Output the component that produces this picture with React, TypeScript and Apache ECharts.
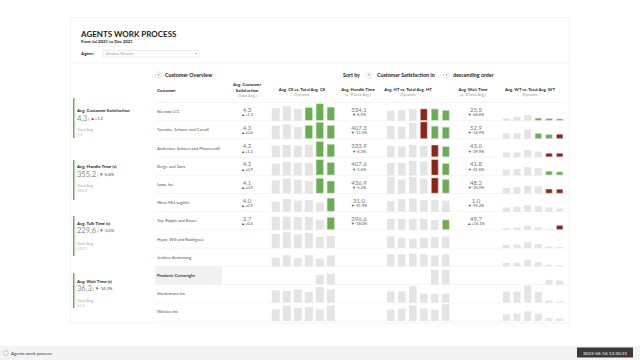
import React, { useEffect, useRef } from "react";
import * as echarts from "echarts";

// ---- data ----
const months = ["Jul", "Aug", "Sep", "Oct", "Nov", "Dec"];

const customers = [
  "Nienow LLC",
  "Turcotte, Schoen and Carroll",
  "Anderson, Schoen and Pfannerstill",
  "Berge and Sons",
  "Lowe Inc",
  "West-McLaughlin",
  "Toy, Rippin and Bauer",
  "Hyatt, Will and Rodriguez",
  "Jenkins-Armstrong",
  "Predovic-Cartwright",
  "Stiedemann Inc",
  "Watsica Inc",
];

// per-customer averages for the selected agent
const csValue = [4.3, 4.3, 4.2, 4.2, 4.1, 4.0, 3.7];
const csDiff = [1.3, 0.6, 1.2, 0.9, 0.9, 0.9, 0.4];
const htValue = [334.1, 407.3, 333.9, 407.6, 436.9, 31.0, 296.6];
const htPct = [-6.9, -11.5, -6.3, -1.6, -5.2, -91.9, -18.0];
const wtValue = [25.5, 52.9, 43.0, 41.8, 48.2, 1.0, 49.7];
const wtPct = [-46.6, -14.9, -29.9, -41.6, -20.9, -95.2, 16.1];

// monthly total averages (all agents), Jul..Dec
const csTotal = [
  [3.6, 4.2, 3.4, 3.8, 4.8, 3.9],
  [3.8, 4.2, 3.4, 3.9, 4.8, 3.9],
  [3.3, 3.5, 3.3, 3.6, 4.5, 3.7],
  [3.4, 3.9, 3.6, 3.6, 4.5, 3.7],
  [3.8, 4.3, 4.0, 3.6, 4.4, 3.6],
  [2.9, 3.7, 3.2, 3.4, 2.7, 3.9],
  [3.8, 3.8, 3.7, 3.7, 2.9, 3.6],
  [4.1, 4.6, 4.0, 4.4, 3.2, 3.5],
  [2.5, 3.2, 2.4, 3.2, 2.2, 3.2],
  [null, null, null, null, 2.8, 3.1],
  [3.6, 3.4, 3.8, 3.1, 4.5, 3.8],
  [3.3, 4.5, 3.8, 4.0, 3.3, 4.5],
];
// monthly values of the selected agent
const csAgent = [
  [null, null, null, 3.9, 5.0, 4.0],
  [null, null, null, 4.0, 4.9, 4.0],
  [null, null, null, null, 4.6, 3.8],
  [null, null, null, null, 4.6, 3.8],
  [null, null, null, null, 4.5, 3.7],
  [null, null, null, null, null, 4.0],
  [null, null, null, null, null, 3.7],
  [], [], [], [], [],
];

const htTotal = [
  [288, 307, 336, 330, 355, 315],
  [374, 355, 470, 480, 385, 355],
  [326, 307, 355, 326, 340, 320],
  [355, 355, 422, 403, 440, 360],
  [480, 403, 480, 432, 445, 425],
  [307, 365, 384, 336, 336, 320],
  [317, 317, 317, 317, 288, 305],
  [336, 298, 269, 298, 317, 336],
  [346, 346, 365, 346, 317, 346],
  [null, null, null, null, 422, 422],
  [326, 326, 470, 259, 259, 259],
  [326, 355, 451, 355, 326, 480],
];
const htAgent = [
  [null, null, null, 350, 345, 307],
  [null, null, null, 500, 375, 347],
  [null, null, null, null, 357, 311],
  [null, null, null, null, 465, 350],
  [null, null, null, null, 460, 414],
  [null, null, null, null, null, 31.0],
  [null, null, null, null, null, 296.6],
  [], [], [], [], [],
];

const wtTotal = [
  [24, 41, 58, 31, 26, 22],
  [58, 58, 99, 61, 50, 48],
  [48, 48, 75, 58, 40, 40],
  [58, 65, 85, 75, 47, 40],
  [58, 65, 82, 75, 46, 45],
  [44, 51, 68, 58, 44, 34],
  [17, 27, 44, 27, 10, 44],
  [34, 37, 61, 44, 17, 10],
  [34, 37, 68, 44, 17, 10],
  [null, null, null, null, 48, 41],
  [116, 116, 177, 109, 24, 14],
  [68, 75, 99, 75, 31, 24],
];
const wtAgent = [
  [null, null, null, 30, 25, 21.5],
  [null, null, null, 59, 48, 51.7],
  [null, null, null, null, 43, 43],
  [null, null, null, null, 45, 38.6],
  [null, null, null, null, 49, 47.4],
  [null, null, null, null, null, 1.0],
  [null, null, null, null, null, 49.7],
  [], [], [], [], [],
];

const kpiNames = ["Avg. Customer Satisfaction", "Avg. Handle Time (s)", "Avg. Talk Time (s)", "Avg. Wait Time (s)"];
const kpiValues = ["4,3", "355,2", "229,6", "36,3"];
const kpiDeltas = ["▲+1,2", "▼-6,8%", "▼-2,0%", "▼-34,3%"];
const kpiTotals = ["3,1", "381,2", "234,3", "55,2"];

// ---- styling ----
const FONT = "Lato, 'Open Sans', sans-serif";
const GREEN = "#6aad52";
const RED = "#8f2419";
const GREY = "#e4e4e4";

const ROW0 = 102.5;
const ROW_H = 18.2;
const rowTop = (i: number) => ROW0 + i * ROW_H;

function text(x: number, y: number, t: string, size: number, color: string, weight = "normal", align = "left", extra: any = {}) {
  return {
    type: "text",
    x,
    y,
    silent: true,
    z: 10,
    style: {
      text: t,
      fontSize: size,
      fill: color,
      fontWeight: weight,
      fontFamily: FONT,
      align,
      textAlign: align,
      verticalAlign: "middle",
      textVerticalAlign: "middle",
      ...extra,
    },
  };
}

function line(x1: number, y1: number, x2: number, y2: number, color: string, w = 0.6) {
  return { type: "line", silent: true, shape: { x1, y1, x2, y2 }, style: { stroke: color, lineWidth: w } };
}

function rect(x: number, y: number, w: number, h: number, fill: string, stroke?: string, lw = 0.6) {
  return { type: "rect", silent: true, shape: { x, y, width: w, height: h }, style: { fill, stroke: stroke || null, lineWidth: lw } };
}

// round toggle button with a small caret
function toggle(x: number, y: number) {
  return [
    { type: "circle", silent: true, z: 10, shape: { cx: x, cy: y, r: 3 }, style: { fill: "#ffffff", stroke: "#cfcfcf", lineWidth: 0.6 } },
    {
      type: "polygon",
      silent: true,
      z: 11,
      shape: { points: [[x - 1, y - 0.6], [x + 1, y - 0.6], [x, y + 0.8]] },
      style: { fill: "#555555" },
    },
  ];
}

function buildOption() {
  const graphics: any[] = [];

  // card
  graphics.push(rect(70.5, 17.5, 498.5, 305.5, "#fff", "#ececec"));
  graphics.push(line(70.5, 63, 569, 63, "#ececec"));

  // header
  graphics.push(text(81, 34, "AGENTS WORK PROCESS", 8, "#222", "bold"));
  graphics.push(text(81, 41.5, "From Jul 2021 to Dec 2021", 4.3, "#222", "bold"));
  graphics.push(text(81, 53.5, "Agent:", 4.5, "#222", "bold"));
  graphics.push(rect(103, 50.5, 96, 6.5, "#fff", "#dcdcdc"));
  graphics.push(text(106, 53.8, "Arsalan Greaert", 4, "#999"));
  graphics.push({
    type: "polygon",
    silent: true,
    z: 11,
    shape: { points: [[194.8, 53.2], [197, 53.2], [195.9, 54.5]] },
    style: { fill: "#777777" },
  });

  // KPI panels
  const kpiY = [
    { bar: [98, 138], title: 110, value: 118, tl: 129, tv: 134 },
    { bar: [160, 200], title: 166, value: 174, tl: 185, tv: 190 },
    { bar: [216, 256], title: 223, value: 230.5, tl: 243, tv: 248 },
    { bar: [273, 308], title: 281, value: 288, tl: 300, tv: 305 },
  ];
  kpiY.forEach((k, i) => {
    graphics.push(rect(73, k.bar[0], 1.5, k.bar[1] - k.bar[0], GREEN));
    graphics.push(text(77, k.title, kpiNames[i], 4.4, "#222", "bold"));
    graphics.push({
      type: "text",
      x: 77,
      y: k.value,
      silent: true,
      z: 10,
      style: {
        text: `{v|${kpiValues[i]}}{s| | ${kpiDeltas[i]}}`,
        fontFamily: FONT,
        verticalAlign: "middle",
        textVerticalAlign: "middle",
        rich: {
          v: { fontSize: 7.5, fill: "#8a8a8a", fontFamily: FONT },
          s: { fontSize: 4.2, fill: "#555", fontFamily: FONT },
        },
      },
    });
    graphics.push(text(77, k.tl, "Total Avg.", 4, "#aaa"));
    graphics.push(text(77, k.tv, kpiTotals[i], 4, "#bbb"));
  });

  // table controls
  graphics.push(...toggle(158.5, 75));
  graphics.push(text(165, 75, "Customer Overview", 5.3, "#222", "bold"));
  graphics.push(text(343, 75, "Sort by", 5.3, "#222", "bold"));
  graphics.push(...toggle(369, 75));
  graphics.push(text(377, 75, "Customer Satisfaction in", 5.3, "#222", "bold"));
  graphics.push(...toggle(446.5, 75));
  graphics.push(text(453, 75, "descending order", 5.3, "#222", "bold"));

  // column headers
  const hdr = (x: number, lines: string[], sub: string, y0: number) => {
    lines.forEach((l, k) => graphics.push(text(x, y0 + k * 5.6, l, 4.3, "#222", "bold", "center")));
    graphics.push(text(x, y0 + lines.length * 5.6, sub, 4, "#9a9a9a", "normal", "center"));
  };
  graphics.push(text(157, 90.7, "Customer", 4.3, "#222", "bold"));
  hdr(247, ["Avg. Customer", "Satisfaction"], "(Total Avg.)", 84.4);
  hdr(302, ["Avg. CS vs. Total Avg. CS"], "Dynamic", 89);
  hdr(358, ["Avg. Handle Time"], "(x, %Total Avg.)", 89);
  hdr(408, ["Avg. HT vs. Total Avg. HT"], "Dynamic", 89);
  hdr(473, ["Avg. Wait Time"], "(x, %Total Avg.)", 89);
  hdr(530, ["Avg. WT vs. Total Avg. WT"], "Dynamic", 89);

  // hovered row
  graphics.push(rect(155, rowTop(9), 67, ROW_H, "#f1f1f1"));

  // rows
  for (let i = 0; i <= customers.length; i++) {
    graphics.push(line(155, rowTop(i), 566, rowTop(i), "#eeeeee"));
  }
  customers.forEach((c, i) => {
    const cy = rowTop(i) + ROW_H / 2;
    graphics.push(text(157, cy, c, 4.2, i === 9 ? "#333" : "#555", i === 9 ? "bold" : "normal"));
    if (i < csValue.length) {
      const y1 = rowTop(i) + 6.8;
      const y2 = rowTop(i) + 12.2;
      graphics.push(text(247, y1, csValue[i].toFixed(1), 6, "#777", "normal", "center"));
      graphics.push(text(247, y2, `▲+${csDiff[i].toFixed(1)}`, 4, "#555", "normal", "center"));
      graphics.push(text(359, y1, htValue[i].toFixed(1), 6, "#777", "normal", "center"));
      graphics.push(text(359, y2, `${htPct[i] < 0 ? "▼" : "▲+"}${htPct[i].toFixed(1)}%`, 4, "#555", "normal", "center"));
      graphics.push(text(476, y1, wtValue[i].toFixed(1), 6, "#777", "normal", "center"));
      graphics.push(text(476, y2, `${wtPct[i] < 0 ? "▼" : "▲+"}${wtPct[i].toFixed(1)}%`, 4, "#555", "normal", "center"));
    }
  });

  // footer
  graphics.push(rect(0, 346, 640, 14, "#f3f3f3"));
  graphics.push(rect(4, 351, 4, 4, "#fff", "#999", 0.5));
  graphics.push(text(11, 353, "Agents work process", 4.5, "#333"));
  graphics.push(rect(577, 347.5, 56, 10, "#3a3a3a"));
  graphics.push(text(605, 352.6, "2022-06-16 12:30:31", 4.6, "#fff", "normal", "center"));

  // small bar charts
  const metrics = [
    { total: csTotal, agent: csAgent, max: 5, left: 270.3, width: 66, barW: 8, higherBetter: true },
    { total: htTotal, agent: htAgent, max: 500, left: 385.3, width: 66, barW: 7.5, higherBetter: false },
    { total: wtTotal, agent: wtAgent, max: 180, left: 501, width: 64, barW: 7, higherBetter: false },
  ];
  const grid: any[] = [];
  const xAxis: any[] = [];
  const yAxis: any[] = [];
  const series: any[] = [];
  metrics.forEach((m) => {
    customers.forEach((_, i) => {
      const idx = grid.length;
      grid.push({ left: m.left, top: rowTop(i) + 0.9, width: m.width, height: ROW_H - 0.9 });
      xAxis.push({ type: "category", gridIndex: idx, data: months, show: false });
      yAxis.push({ type: "value", gridIndex: idx, min: 0, max: m.max, show: false });
      series.push({
        type: "bar",
        xAxisIndex: idx,
        yAxisIndex: idx,
        data: m.total[i],
        barWidth: m.barW,
        barGap: "-100%",
        silent: true,
        itemStyle: { color: GREY },
      });
      const ag = m.agent[i];
      series.push({
        type: "bar",
        xAxisIndex: idx,
        yAxisIndex: idx,
        barWidth: m.barW,
        barGap: "-100%",
        silent: true,
        data: months.map((_, k) => {
          const v = ag[k];
          if (v == null) return null;
          const t = m.total[i][k] as number;
          const better = m.higherBetter ? v >= t : v <= t;
          return { value: v, itemStyle: { color: better ? GREEN : RED, borderColor: "#f4f4f4", borderWidth: 0.5 } };
        }),
      });
    });
  });

  return {
    animation: false,
    backgroundColor: "#ffffff",
    grid,
    xAxis,
    yAxis,
    series,
    graphic: { elements: graphics },
  };
}

export default function App() {
  const ref = useRef<HTMLDivElement>(null);
  useEffect(() => {
    if (!ref.current) return;
    const chart = echarts.init(ref.current, undefined, { renderer: "svg" });
    chart.setOption(buildOption() as any);
    return () => chart.dispose();
  }, []);
  return <div ref={ref} style={{ position: "fixed", left: 0, top: 0, width: 640, height: 360 }} />;
}
